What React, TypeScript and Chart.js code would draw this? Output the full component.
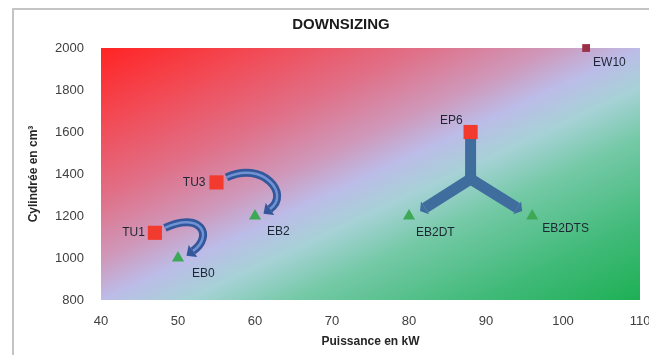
import React, { useEffect, useRef } from 'react';
import { Chart, registerables } from 'chart.js';

Chart.register(...registerables);

// ---- Data ----
const chartTitle = 'DOWNSIZING';
const xAxisTitle = 'Puissance en kW';
const yAxisTitle = 'Cylindrée en cm³';

const xMin = 40;
const xMax = 110;
const xStep = 10;
const yMin = 800;
const yMax = 2000;
const yStep = 200;

const currentNames = ['TU1', 'TU3', 'EP6'];
const currentPower = [47, 55, 88];
const currentDisp = [1120, 1360, 1600];

const downsizedNames = ['EB0', 'EB2', 'EB2DT', 'EB2DTS'];
const downsizedPower = [50, 60, 80, 96];
const downsizedDisp = [1000, 1200, 1200, 1200];

const refNames = ['EW10'];
const refPower = [103];
const refDisp = [2000];

const curvedLinks = [
  ['TU1', 'EB0'],
  ['TU3', 'EB2'],
];
const forkLinks = [['EP6', 'EB2DT', 'EB2DTS']];

// ---- Styling (label placement in px relative to the point) ----
const labelPlacement: Record<string, { dx: number; dy: number; align: CanvasTextAlign }> = {
  TU1: { dx: -10, dy: 0, align: 'right' },
  TU3: { dx: -11, dy: 0, align: 'right' },
  EP6: { dx: -8, dy: -11, align: 'right' },
  EB0: { dx: 14, dy: 16, align: 'left' },
  EB2: { dx: 12, dy: 16, align: 'left' },
  EB2DT: { dx: 7, dy: 17, align: 'left' },
  EB2DTS: { dx: 10, dy: 13, align: 'left' },
  EW10: { dx: 7, dy: 15, align: 'left' },
};

const FONT = "'Liberation Sans', Arial, sans-serif";

function findPoint(name: string): [number, number] | null {
  let i = currentNames.indexOf(name);
  if (i >= 0) return [currentPower[i], currentDisp[i]];
  i = downsizedNames.indexOf(name);
  if (i >= 0) return [downsizedPower[i], downsizedDisp[i]];
  i = refNames.indexOf(name);
  if (i >= 0) return [refPower[i], refDisp[i]];
  return null;
}

function arrowHead(ctx: CanvasRenderingContext2D, bx: number, by: number, ang: number, len: number, half: number, color: string) {
  ctx.save();
  ctx.translate(bx, by);
  ctx.rotate(ang);
  ctx.beginPath();
  ctx.moveTo(len, 0);
  ctx.lineTo(0, -half);
  ctx.lineTo(0, half);
  ctx.closePath();
  ctx.fillStyle = color;
  ctx.fill();
  ctx.restore();
}

const backgroundPlugin = {
  id: 'bgGradient',
  beforeDatasetsDraw(chart: any) {
    const { ctx, chartArea } = chart;
    const { left, top, right, bottom } = chartArea;
    const w = right - left;
    const h = bottom - top;
    const cx = (left + right) / 2;
    const cy = (top + bottom) / 2;
    const k = (w * h) / (w * w + h * h);
    const g = ctx.createLinearGradient(cx - k * h, cy - k * w, cx + k * h, cy + k * w);
    g.addColorStop(0, '#ff2424');
    g.addColorStop(0.15, '#f24a55');
    g.addColorStop(0.3, '#e07088');
    g.addColorStop(0.42, '#cf98ba');
    g.addColorStop(0.5, '#bcbce8');
    g.addColorStop(0.58, '#a6d2d6');
    g.addColorStop(0.68, '#74c9a6');
    g.addColorStop(0.85, '#40ba78');
    g.addColorStop(1, '#1eb055');
    ctx.save();
    ctx.fillStyle = g;
    ctx.fillRect(left, top, w, h);
    ctx.restore();
  },
};

const arrowsPlugin = {
  id: 'arrows',
  beforeDatasetsDraw(chart: any) {
    const { ctx } = chart;
    const xs = chart.scales.x;
    const ys = chart.scales.y;
    const px = (name: string) => {
      const p = findPoint(name)!;
      return { x: xs.getPixelForValue(p[0]), y: ys.getPixelForValue(p[1]) };
    };
    ctx.save();
    // curved arrows
    for (const [from, to] of curvedLinks) {
      const A = px(from);
      const B = px(to);
      const s = { x: A.x + 10, y: A.y - 5 };
      const c1 = { x: A.x + 46, y: A.y - 22 };
      const c2 = { x: B.x + 36, y: B.y - 22 };
      const e = { x: B.x + 15, y: B.y - 7 };
      ctx.lineCap = 'butt';
      ctx.beginPath();
      ctx.moveTo(s.x, s.y);
      ctx.bezierCurveTo(c1.x, c1.y, c2.x, c2.y, e.x, e.y);
      ctx.strokeStyle = '#34579c';
      ctx.lineWidth = 8;
      ctx.stroke();
      ctx.beginPath();
      ctx.moveTo(s.x, s.y);
      ctx.bezierCurveTo(c1.x, c1.y, c2.x, c2.y, e.x, e.y);
      ctx.strokeStyle = '#6f93d2';
      ctx.lineWidth = 2.5;
      ctx.stroke();
      const ang = Math.atan2(e.y - c2.y, e.x - c2.x);
      arrowHead(ctx, e.x, e.y, ang, 8, 7.5, '#34579c');
    }
    // fork arrows
    for (const [from, t1, t2] of forkLinks) {
      const E = px(from);
      const T1 = px(t1);
      const T2 = px(t2);
      const J = { x: E.x, y: E.y + 47 };
      const tips = [
        { x: T1.x + 11, y: T1.y - 5 },
        { x: T2.x - 10, y: T2.y - 5 },
      ];
      const color = '#3f6d9e';
      ctx.strokeStyle = color;
      ctx.lineWidth = 11;
      ctx.lineJoin = 'round';
      ctx.lineCap = 'butt';
      ctx.beginPath();
      ctx.moveTo(E.x, E.y + 6);
      ctx.lineTo(J.x, J.y);
      ctx.stroke();
      for (const tip of tips) {
        const ang = Math.atan2(tip.y - J.y, tip.x - J.x);
        const len = 6;
        const bx = tip.x - len * Math.cos(ang);
        const by = tip.y - len * Math.sin(ang);
        ctx.beginPath();
        ctx.moveTo(J.x, J.y - 4);
        ctx.lineTo(J.x, J.y);
        ctx.lineTo(bx, by);
        ctx.stroke();
        arrowHead(ctx, bx, by, ang, len, 7.5, color);
      }
    }
    ctx.restore();
  },
};

const labelsPlugin = {
  id: 'pointLabels',
  afterDatasetsDraw(chart: any) {
    const { ctx } = chart;
    const xs = chart.scales.x;
    const ys = chart.scales.y;
    const all = [...currentNames, ...downsizedNames, ...refNames];
    ctx.save();
    ctx.font = `12px ${FONT}`;
    ctx.fillStyle = '#1d2633';
    ctx.textBaseline = 'middle';
    for (const name of all) {
      const p = findPoint(name)!;
      const pl = labelPlacement[name] || { dx: 8, dy: 0, align: 'left' as CanvasTextAlign };
      ctx.textAlign = pl.align;
      ctx.fillText(name, xs.getPixelForValue(p[0]) + pl.dx, ys.getPixelForValue(p[1]) + pl.dy);
    }
    ctx.restore();
  },
};

export default function App() {
  const canvasRef = useRef<HTMLCanvasElement | null>(null);

  useEffect(() => {
    const canvas = canvasRef.current;
    if (!canvas) return;
    const chart = new Chart(canvas, {
      type: 'scatter',
      data: {
        datasets: [
          {
            label: 'Moteurs actuels',
            data: currentPower.map((x, i) => ({ x, y: currentDisp[i] })),
            pointStyle: 'rect',
            pointRadius: 10,
            pointHoverRadius: 10,
            backgroundColor: '#f23b2e',
            borderColor: '#f23b2e',
            borderWidth: 0,
            clip: false,
          },
          {
            label: 'Downsizing',
            data: downsizedPower.map((x, i) => ({ x, y: downsizedDisp[i] })),
            pointStyle: 'triangle',
            pointRadius: 7,
            pointHoverRadius: 7,
            backgroundColor: '#3da957',
            borderColor: '#3da957',
            borderWidth: 0,
            clip: false,
          },
          {
            label: 'EW10',
            data: refPower.map((x, i) => ({ x, y: refDisp[i] })),
            pointStyle: 'rect',
            pointRadius: 5.5,
            pointHoverRadius: 5.5,
            backgroundColor: '#9c2f48',
            borderColor: '#9c2f48',
            borderWidth: 0,
            clip: false,
          },
        ],
      },
      options: {
        animation: false,
        responsive: false,
        devicePixelRatio: 1,
        layout: { padding: { left: 42, right: 40, top: 0, bottom: 0 } },
        plugins: {
          legend: { display: false },
          tooltip: { enabled: false },
          title: {
            display: true,
            text: chartTitle,
            color: '#1a1a1a',
            font: { family: FONT, size: 15, weight: 'bold' },
            padding: { top: 16, bottom: 14 },
          },
        },
        scales: {
          x: {
            type: 'linear',
            min: xMin,
            max: xMax,
            ticks: {
              stepSize: xStep,
              color: '#404040',
              font: { family: FONT, size: 13 },
              padding: 14,
              callback: (v: any) => String(v),
            },
            grid: { display: false, drawTicks: false },
            border: { display: false },
            title: {
              display: true,
              text: xAxisTitle,
              color: '#262626',
              font: { family: FONT, size: 12, weight: 'bold' },
              padding: { top: 0, bottom: 6 },
            },
            afterFit(scale: any) {
              scale.height = 55;
            },
          },
          y: {
            type: 'linear',
            min: yMin,
            max: yMax,
            ticks: {
              stepSize: yStep,
              color: '#404040',
              font: { family: FONT, size: 13 },
              padding: 17,
              callback: (v: any) => String(v),
            },
            grid: { display: false, drawTicks: false },
            border: { display: false },
            title: {
              display: true,
              text: yAxisTitle,
              color: '#262626',
              font: { family: FONT, size: 12, weight: 'bold' },
              padding: { top: -16, bottom: 0 },
            },
            afterFit(scale: any) {
              scale.width = 59;
            },
          },
        },
      },
      plugins: [backgroundPlugin, arrowsPlugin, labelsPlugin],
    });
    return () => chart.destroy();
  }, []);

  return (
    <div
      style={{
        position: 'fixed',
        left: 0,
        top: 0,
        width: 649,
        height: 355,
        overflow: 'hidden',
        background: '#ffffff',
      }}
    >
      <div
        style={{
          position: 'absolute',
          left: 12,
          top: 8,
          width: 700,
          height: 400,
          border: '2px solid #c4c4c4',
          boxSizing: 'border-box',
        }}
      />
      <canvas
        ref={canvasRef}
        width={680}
        height={355}
        style={{ position: 'absolute', left: 0, top: 0, width: 680, height: 355 }}
      />
    </div>
  );
}
